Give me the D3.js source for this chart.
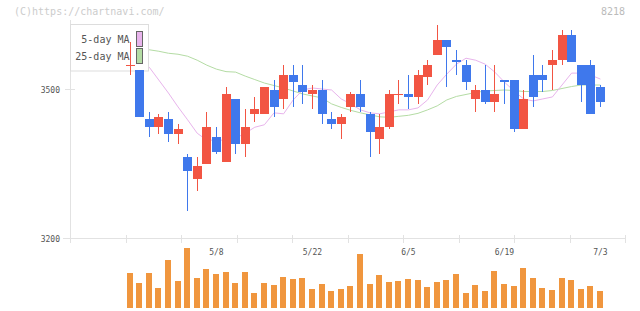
<!DOCTYPE html>
<html><head><meta charset="utf-8">
<script src="https://cdn.jsdelivr.net/npm/d3@7"></script>
<style>body{margin:0;background:#fff}svg{display:block}</style>
</head><body><svg id="c" width="640" height="311"></svg>
<script>
const dates = ["4/20","4/21","4/24","4/25","4/26","4/27","4/28","5/1","5/2","5/8",
"5/9","5/10","5/11","5/12","5/15","5/16","5/17","5/18","5/19","5/22",
"5/23","5/24","5/25","5/26","5/29","5/30","5/31","6/1","6/2","6/5",
"6/6","6/7","6/8","6/9","6/12","6/13","6/14","6/15","6/16","6/19",
"6/20","6/21","6/22","6/23","6/26","6/27","6/28","6/29","6/30","7/3"];
const open  = [3550,3540,3440,3425,3440,3410,3365,3320,3350,3405,3355,3480,3390,3450,3450,3500,3480,3530,3510,3490,3500,3440,3430,3465,3490,3450,3400,3425,3490,3490,3485,3525,3570,3600,3560,3550,3480,3500,3475,3520,3520,3420,3530,3530,3550,3560,3610,3550,3550,3505];
const high  = [3595,3540,3455,3450,3455,3430,3370,3365,3455,3425,3505,3480,3460,3485,3505,3520,3550,3550,3550,3510,3520,3455,3450,3495,3520,3455,3450,3500,3520,3530,3540,3560,3630,3600,3580,3560,3510,3550,3550,3520,3520,3500,3570,3550,3580,3620,3620,3550,3560,3510];
const low   = [3530,3445,3405,3410,3395,3390,3255,3295,3350,3370,3355,3370,3365,3435,3450,3445,3460,3465,3470,3460,3430,3420,3400,3455,3455,3365,3370,3420,3470,3460,3470,3510,3570,3505,3530,3500,3455,3470,3455,3470,3415,3420,3465,3495,3500,3550,3555,3475,3450,3465];
const close = [3550,3445,3425,3445,3410,3420,3335,3345,3425,3375,3490,3390,3425,3460,3505,3465,3530,3515,3495,3500,3450,3430,3445,3490,3465,3415,3425,3490,3490,3485,3530,3550,3600,3585,3555,3515,3500,3475,3490,3515,3420,3480,3485,3520,3560,3610,3555,3510,3450,3475];
const volume = [70000,50000,70000,40000,96000,54000,120000,60000,78000,68000,72000,50000,72000,30000,50000,46000,62000,58000,60000,38000,48000,34000,38000,44000,108000,48000,66000,52000,54000,58000,56000,42000,52000,56000,68000,30000,46000,34000,74000,48000,44000,80000,60000,40000,36000,60000,56000,38000,44000,34000];
const ma5  = [3563,3559,3545,3519,3493,3465,3439,3412,3398,3398,3398,3402,3412,3424,3429,3453,3451,3479,3499,3503,3501,3499,3481,3471,3459,3453,3451,3455,3459,3459,3463,3479,3509,3531,3551,3563,3559,3551,3535,3515,3497,3481,3477,3481,3485,3509,3533,3533,3529,3521];
const ma25 = [3580,3580,3580,3577,3573,3571,3567,3559,3549,3541,3536,3535,3527,3520,3513,3508,3503,3497,3491,3487,3483,3471,3464,3458,3453,3449,3445,3444,3446,3448,3452,3459,3467,3479,3486,3490,3494,3497,3498,3499,3498,3496,3496,3496,3498,3502,3506,3509,3509,3509];
const dateTicks = ["5/8","5/22","6/5","6/19","7/3"];
const priceTicks = [3200, 3500];
const legendItems = ["5-day MA","25-day MA"];

const RED="#f25543", BLUE="#3f78ec", ORANGE="#f0963e", PINK="#e8b4ec", GREEN="#b4dca4";
const svg = d3.select("#c");
const FONT = "'DejaVu Sans Mono', monospace";

const x = d3.scaleLinear().domain([0, dates.length-1]).range([130, 130 + 9.6*(dates.length-1)]);
const y = d3.scaleLinear().domain([3200, 3500]).range([238.5, 89.5]);
const yv = d3.scaleLinear().domain([0, 120000]).range([308, 248]);
const grid = d3.scaleLinear().domain([0, 10]).range([70, 625.4]);

// header texts
svg.append("text").attr("x", 14).attr("y", 15).attr("font-family", FONT).attr("font-size", 10)
  .attr("fill", "#cccccc").text("(C)https://chartnavi.com/");
svg.append("text").attr("x", 625).attr("y", 15).attr("text-anchor", "end").attr("font-family", FONT)
  .attr("font-size", 10).attr("fill", "#bbbbbb").text("8218");

// axes / grid
const axisC = "#e2e2e2";
svg.append("line").attr("x1", 70.5).attr("x2", 70.5).attr("y1", 20).attr("y2", 243).attr("stroke", axisC);
svg.append("line").attr("x1", 63).attr("x2", 626).attr("y1", y(3200)).attr("y2", y(3200)).attr("stroke", axisC);
d3.range(1, 11).forEach(k => {
  const gx = Math.round(grid(k)) + 0.5;
  svg.append("line").attr("x1", gx).attr("x2", gx).attr("y1", 235).attr("y2", 243).attr("stroke", axisC);
});
priceTicks.forEach(p => {
  svg.append("line").attr("x1", 65).attr("x2", 75).attr("y1", y(p)).attr("y2", y(p)).attr("stroke", axisC);
  svg.append("text").attr("x", 60).attr("y", y(p) + 3).attr("text-anchor", "end").attr("font-family", FONT)
    .attr("font-size", 8).attr("fill", "#555").text(p);
});
dateTicks.forEach(dl => {
  const i = dates.indexOf(dl);
  svg.append("text").attr("x", x(i)).attr("y", 255).attr("text-anchor", "middle").attr("font-family", FONT)
    .attr("font-size", 8).attr("fill", "#555").text(dl);
});

// moving averages
const line = arr => d3.line().x((d, i) => x(i)).y(d => y(d))(arr);
svg.append("path").attr("d", line(ma25)).attr("fill", "none").attr("stroke", GREEN).attr("stroke-width", 1);
svg.append("path").attr("d", line(ma5)).attr("fill", "none").attr("stroke", PINK).attr("stroke-width", 1);

// legend
const lg = svg.append("g");
lg.append("rect").attr("x", 70.5).attr("y", 24.5).attr("width", 78).attr("height", 46.5)
  .attr("fill", "#fff").attr("stroke", "#dddddd");
[PINK, GREEN].forEach((c, k) => {
  lg.append("text").attr("x", 129.5).attr("y", 43 + k*17).attr("text-anchor", "end").attr("font-family", FONT)
    .attr("font-size", 10).attr("fill", "#555").text(legendItems[k]);
  lg.append("rect").attr("x", 136.5).attr("y", 31.5 + k*17).attr("width", 6).attr("height", 15)
    .attr("fill", c).attr("stroke", "#666");
});

// candles
const cg = svg.append("g");
dates.forEach((d, i) => {
  const c = close[i] >= open[i] ? RED : BLUE;
  const xc = x(i);
  const wx = Math.floor(xc) + 0.5;
  cg.append("line").attr("x1", wx).attr("x2", wx).attr("y1", Math.round(y(high[i]))).attr("y2", Math.round(y(low[i])))
    .attr("stroke", c).attr("stroke-width", 1);
  const t = Math.round(y(Math.max(open[i], close[i])));
  const b = Math.round(y(Math.min(open[i], close[i])));
  cg.append("rect").attr("x", Math.round(xc - 4.5)).attr("y", t).attr("width", 9).attr("height", Math.max(1, b - t))
    .attr("fill", c);
});

// volume
svg.append("g").selectAll("rect").data(volume).join("rect")
  .attr("x", (v, i) => Math.round(x(i) - 3.5)).attr("width", 6)
  .attr("y", v => Math.round(yv(v))).attr("height", v => 308 - Math.round(yv(v)))
  .attr("fill", ORANGE);
</script></body></html>
